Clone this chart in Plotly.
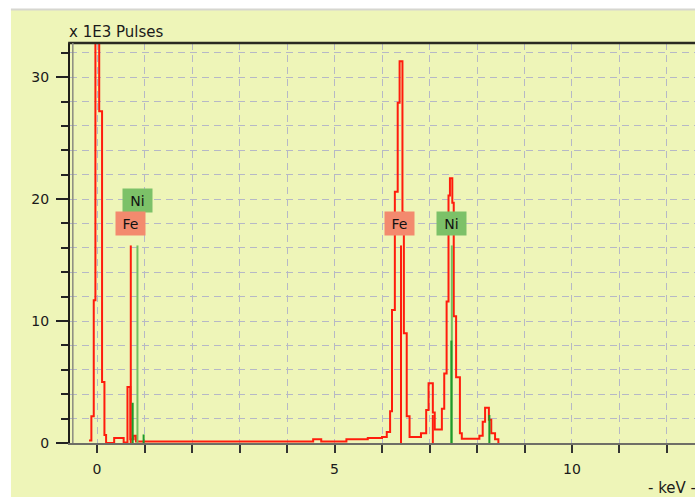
import plotly.graph_objects as go

# EDX spectrum (step histogram): energy of each step start [keV], counts [x 1E3 pulses]
energy_kev = [-0.17, -0.12, -0.07, -0.035, 0.045, 0.105, 0.155, 0.19, 0.36, 0.56,
              0.64, 0.70, 0.77, 0.82, 4.55, 4.72, 5.25, 5.70, 6.00, 6.10,
              6.17, 6.21, 6.27, 6.33, 6.37, 6.43, 6.46, 6.52, 6.58, 6.82,
              6.93, 6.98, 7.07, 7.11, 7.26, 7.31, 7.36, 7.40, 7.43, 7.48,
              7.51, 7.56, 7.64, 7.68, 8.05, 8.12, 8.17, 8.25, 8.30, 8.38, 8.45]
counts_k = [0.2, 2.2, 11.7, 48.0, 27.2, 5.0, 0.66, 0.0, 0.4, 0.05,
            4.6, 0.3, 0.6, 0.12, 0.3, 0.12, 0.3, 0.4, 0.5, 0.9,
            2.6, 10.9, 20.6, 27.9, 31.3, 18.9, 9.0, 2.2, 0.5, 0.8,
            2.7, 4.9, 2.5, 1.1, 2.8, 5.7, 11.6, 20.3, 21.7, 19.7,
            10.4, 5.4, 0.8, 0.35, 0.6, 1.75, 2.9, 1.9, 0.8, 0.3, 0.0]

# Element line markers
fe_line_kev = [0.71, 6.40, 7.07]
fe_line_height = [16.2, 16.2, 2.3]
ni_main_kev = [0.85, 7.47]
ni_main_height = [16.2, 16.2]
ni_minor_kev = [0.75, 0.98, 7.46, 8.26]
ni_minor_height = [3.3, 0.7, 8.4, 2.3]

# Element labels: text, energy, label height
label_text = ["Ni", "Fe", "Fe", "Ni"]
label_kev = [0.86, 0.71, 6.37, 7.47]
label_y = [19.9, 18.0, 18.0, 18.0]
label_color = ["#7cc168", "#f38a6e", "#f38a6e", "#7cc168"]

x_tick_vals = [0, 5, 10]
y_tick_vals = [0, 10, 20, 30]

BG = "#eef5b8"
GRID = "#b6b8c6"
FONT = "DejaVu Sans"


def stems(xs, hs):
    px, py = [], []
    for x, h in zip(xs, hs):
        px += [x, x, None]
        py += [0, h, None]
    return px, py


fig = go.Figure()

fig.add_trace(go.Scatter(
    x=energy_kev, y=counts_k, mode="lines", line_shape="hv",
    line=dict(color="#ff1c0c", width=2), hoverinfo="skip", showlegend=False))

sx, sy = stems(fe_line_kev, fe_line_height)
fig.add_trace(go.Scatter(x=sx, y=sy, mode="lines",
                         line=dict(color="#ff1c0c", width=2), showlegend=False))
sx, sy = stems(ni_main_kev, ni_main_height)
fig.add_trace(go.Scatter(x=sx, y=sy, mode="lines",
                         line=dict(color="#74c060", width=2), showlegend=False))
sx, sy = stems(ni_minor_kev, ni_minor_height)
fig.add_trace(go.Scatter(x=sx, y=sy, mode="lines",
                         line=dict(color="#1e9a2a", width=2), showlegend=False))

for t, xk, yk, c in zip(label_text, label_kev, label_y, label_color):
    fig.add_annotation(x=xk, y=yk, text=t, showarrow=False,
                       bgcolor=c, width=25, height=19, borderpad=2,
                       font=dict(family=FONT, size=14, color="#111111"))

fig.add_annotation(xref="paper", yref="paper", x=-0.005, y=1.028,
                   xanchor="left", yanchor="middle", showarrow=False,
                   text="x 1E3 Pulses",
                   font=dict(family=FONT, size=15, color="#1a1a1a"))
fig.add_annotation(xref="paper", yref="paper", x=1.004, y=-0.1125,
                   xanchor="right", yanchor="middle", showarrow=False,
                   text="- keV -",
                   font=dict(family=FONT, size=15, color="#1a1a1a"))

# white frame strips and separator line around the panel
fig.add_shape(type="rect", xref="paper", yref="paper", x0=-0.12, x1=1.02,
              y0=1.085, y1=1.2, fillcolor="white", line_width=0, layer="below")
fig.add_shape(type="rect", xref="paper", yref="paper", x0=-0.12, x1=-0.0945,
              y0=-0.2, y1=1.2, fillcolor="white", line_width=0, layer="below")
fig.add_shape(type="line", xref="paper", yref="paper", x0=-0.0945, x1=1.02,
              y0=1.084, y1=1.084, line=dict(color="#d6d6d0", width=2))
# top frame line and secondary left rule
fig.add_shape(type="line", xref="paper", yref="paper", x0=-0.003, x1=1.0,
              y0=1.0, y1=1.0, line=dict(color="#2a2a22", width=2.5))
fig.add_shape(type="line", xref="paper", yref="paper", x0=0.0045, x1=0.0045,
              y0=0.0, y1=1.0, line=dict(color="#8a8a80", width=1.5))

fig.update_layout(
    width=695, height=497,
    margin=dict(l=70, r=0, t=43, b=54),
    paper_bgcolor=BG, plot_bgcolor=BG,
    showlegend=False,
    font=dict(family=FONT, size=14, color="#1a1a1a"),
)

fig.update_xaxes(
    range=[-0.57, 12.59], tickmode="array", tickvals=x_tick_vals,
    ticks="outside", ticklen=8, tickwidth=2, tickcolor="#333333",
    showline=True, linecolor="#6e6e66", linewidth=2,
    showgrid=True, gridcolor=GRID, gridwidth=1.3, griddash="7px,5px",
    zeroline=False, ticklabelstandoff=4,
    minor=dict(dtick=1, tick0=0, ticks="outside", ticklen=8, tickwidth=2,
               tickcolor="#333333", showgrid=True, gridcolor=GRID,
               gridwidth=1.3, griddash="7px,5px"),
)
fig.update_yaxes(
    range=[0, 32.8], tickmode="array", tickvals=y_tick_vals,
    ticks="outside", ticklen=12, tickwidth=2, tickcolor="#222222",
    showline=True, linecolor="#1e1e18", linewidth=2,
    showgrid=True, gridcolor=GRID, gridwidth=1.3, griddash="7px,5px",
    zeroline=False, ticklabelstandoff=4,
    minor=dict(dtick=2, tick0=0, ticks="outside", ticklen=7, tickwidth=2,
               tickcolor="#222222", showgrid=True, gridcolor=GRID,
               gridwidth=1.3, griddash="7px,5px"),
)

fig.write_html("out.html")
